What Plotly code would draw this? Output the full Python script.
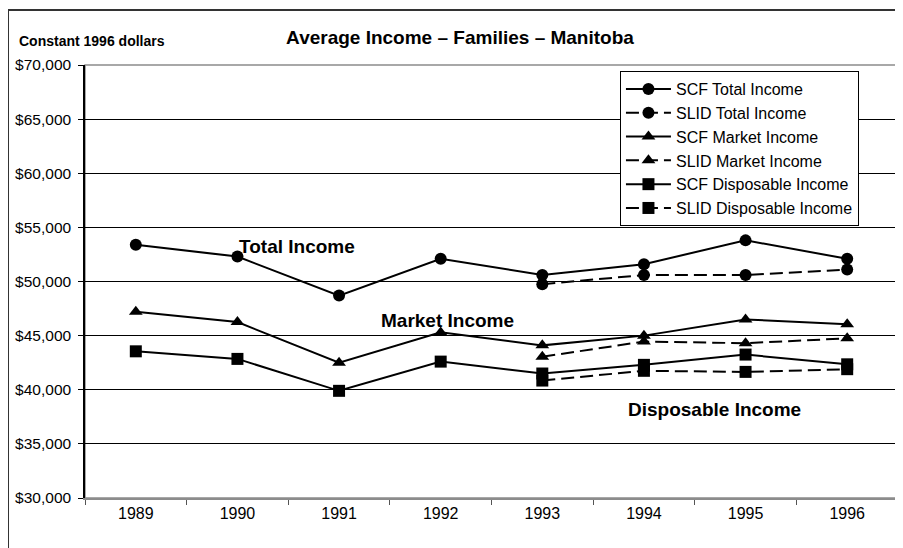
import plotly.graph_objects as go

years = ["1989", "1990", "1991", "1992", "1993", "1994", "1995", "1996"]
slid_years = ["1993", "1994", "1995", "1996"]

scf_total = [53400, 52300, 48700, 52100, 50600, 51600, 53800, 52100]
slid_total = [49750, 50600, 50600, 51100]
scf_market = [47200, 46250, 42500, 45300, 44100, 45000, 46500, 46050]
slid_market = [43050, 44450, 44300, 44750]
scf_disp = [43550, 42850, 39900, 42600, 41500, 42300, 43250, 42350]
slid_disp = [40850, 41750, 41650, 41900]

y_ticks = [30000, 35000, 40000, 45000, 50000, 55000, 60000, 65000, 70000]
y_labels = ["$30,000", "$35,000", "$40,000", "$45,000", "$50,000",
            "$55,000", "$60,000", "$65,000", "$70,000"]

series = [
    ("SCF Total Income", years, scf_total, "circle", "solid"),
    ("SLID Total Income", slid_years, slid_total, "circle", "13px,6px"),
    ("SCF Market Income", years, scf_market, "triangle-up", "solid"),
    ("SLID Market Income", slid_years, slid_market, "triangle-up", "13px,6px"),
    ("SCF Disposable Income", years, scf_disp, "square", "solid"),
    ("SLID Disposable Income", slid_years, slid_disp, "square", "13px,6px"),
]

FONT = "Liberation Sans, Arial, sans-serif"

# the page body has an 8px margin, so the figure is sized to fit inside it
W, H = 895, 540

fig = go.Figure()
for name, xs, ys, sym, dash in series:
    fig.add_trace(
        go.Scatter(
            x=xs, y=ys, mode="lines+markers", name=name,
            line=dict(color="black", width=2, dash=dash),
            marker=dict(symbol=sym, size=12, color="black"),
            hoverinfo="skip",
        )
    )

annotations = [
    dict(text="<b>Total Income</b>", x=0.187, y=0.58),
    dict(text="<b>Market Income</b>", x=0.3616, y=0.409),
    dict(text="<b>Disposable Income</b>", x=0.6654, y=0.2055),
]
for a in annotations:
    fig.add_annotation(
        text=a["text"], x=a["x"], y=a["y"], xref="paper", yref="paper",
        xanchor="left", yanchor="middle", showarrow=False,
        font=dict(size=19, color="black", family=FONT),
    )

fig.add_annotation(
    text="<b>Constant 1996 dollars</b>", x=-0.0836, y=1.055,
    xref="paper", yref="paper", xanchor="left", yanchor="middle",
    showarrow=False, font=dict(size=14, color="black", family=FONT),
)

# plot-area border (gray) and outer chart frame
fig.add_shape(type="rect", xref="paper", yref="paper", x0=0, x1=1, y0=0, y1=1,
              line=dict(color="#8c8c8c", width=1.5), layer="below")
fig.add_shape(type="rect", xref="paper", yref="paper", x0=-0.0947, x1=1.3,
              y0=-0.4, y1=1.127, line=dict(color="#333333", width=2))

fig.update_layout(
    width=W, height=H,
    paper_bgcolor="white", plot_bgcolor="white",
    margin=dict(l=77, r=5, t=57, b=50),
    font=dict(family=FONT, color="black"),
    title=dict(
        text="<b>Average Income – Families – Manitoba</b>",
        x=(460 - 8) / W, xanchor="center", y=1 - 29 / H, yanchor="middle",
        font=dict(size=19, color="black", family=FONT),
    ),
    showlegend=True,
    legend=dict(
        x=0.658, y=0.986, xanchor="left", yanchor="top",
        bgcolor="white", bordercolor="black", borderwidth=1,
        font=dict(size=16, color="black", family=FONT),
        tracegroupgap=0, itemwidth=45,
    ),
    xaxis=dict(
        type="category", categoryorder="array", categoryarray=years,
        range=[-0.5, 7.5], showgrid=False, zeroline=False,
        showline=True, linecolor="#8c8c8c", linewidth=1.5,
        ticks="outside", tickson="boundaries", ticklen=5,
        tickcolor="#555555", tickfont=dict(size=16, color="black"),
    ),
    yaxis=dict(
        range=[30000, 70000], tickvals=y_ticks, ticktext=y_labels,
        showgrid=True, gridcolor="black", gridwidth=1, zeroline=False,
        showline=True, linecolor="black", linewidth=1.5,
        ticks="outside", ticklen=5, tickcolor="black",
        ticklabelstandoff=4,
        tickfont=dict(size=15.5, color="black"),
    ),
)

fig.write_html("out.html")
